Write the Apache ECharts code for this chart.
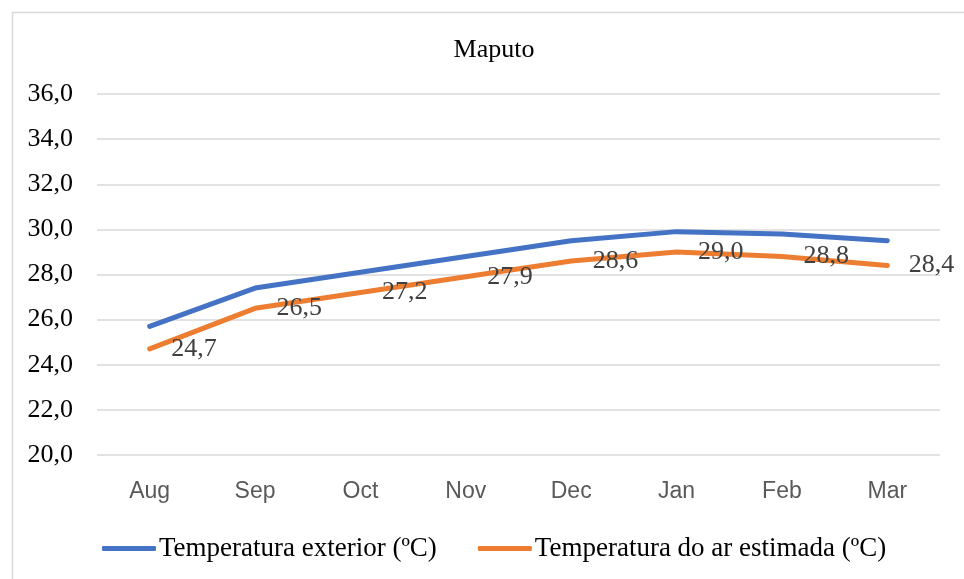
<!DOCTYPE html>
<html>
<head>
<meta charset="utf-8">
<script src="https://cdn.jsdelivr.net/npm/echarts@6/dist/echarts.min.js"></script>
<style>
  html, body { margin: 0; padding: 0; background: #fff; }
  #chart { width: 964px; height: 579px; }
</style>
</head>
<body>
<div id="chart"></div>
<script>
const months = ["Aug", "Sep", "Oct", "Nov", "Dec", "Jan", "Feb", "Mar"];
const tempExterior = [25.7, 27.4, 28.1, 28.8, 29.5, 29.9, 29.8, 29.5];
const tempArEstimada = [24.7, 26.5, 27.2, 27.9, 28.6, 29.0, 28.8, 28.4];
const seriesNames = ["Temperatura exterior (ºC)", "Temperatura do ar estimada (ºC)"];

const serif = "'Liberation Serif', 'Times New Roman', serif";
const comma = v => v.toFixed(1).replace(".", ",");

const chart = echarts.init(document.getElementById("chart"));
chart.setOption({
  animation: false,
  backgroundColor: "#fff",
  color: ["#4472C4", "#ED7D31"],
  graphic: [
    {
      type: "rect",
      left: 10,
      top: 10,
      shape: { width: 1000, height: 1000 },
      style: { fill: "none", stroke: "#D9D9D9", lineWidth: 1.5 },
      silent: true
    }
  ],
  title: {
    text: "Maputo",
    left: 489,
    textAlign: "center",
    top: 32,
    textStyle: { fontFamily: serif, fontSize: 26, fontWeight: "normal", color: "#000" }
  },
  grid: { left: 97, right: 24, top: 94, bottom: 124, containLabel: false },
  legend: {
    left: 102,
    top: 535,
    padding: 0,
    itemWidth: 54,
    itemHeight: 5,
    itemGap: 41,
    icon: "roundRect",
    textStyle: { fontFamily: serif, fontSize: 27, color: "#000", padding: [0, 0, 0, -2] },
    data: seriesNames
  },
  xAxis: {
    type: "category",
    data: months,
    boundaryGap: true,
    axisLine: { show: false },
    axisTick: { show: false },
    axisLabel: {
      margin: 25,
      fontFamily: "'Liberation Sans', Arial, sans-serif",
      fontSize: 23,
      color: "#595959"
    }
  },
  yAxis: {
    type: "value",
    min: 20,
    max: 36,
    interval: 2,
    axisLine: { show: false },
    axisTick: { show: false },
    splitLine: { lineStyle: { color: "#D9D9D9", width: 1.5 } },
    axisLabel: {
      margin: 24,
      fontFamily: serif,
      fontSize: 26,
      color: "#000",
      formatter: comma
    }
  },
  series: [
    {
      name: seriesNames[0],
      type: "line",
      data: tempExterior,
      symbol: "circle",
      symbolSize: 1,
      lineStyle: { width: 5, cap: "round" },
      label: { show: false }
    },
    {
      name: seriesNames[1],
      type: "line",
      data: tempArEstimada,
      symbol: "circle",
      symbolSize: 1,
      lineStyle: { width: 5, cap: "round" },
      label: {
        show: true,
        position: "right",
        distance: 21,
        fontFamily: serif,
        fontSize: 26,
        color: "#404040",
        padding: [10, 0, 0, 0],
        formatter: p => comma(p.value)
      }
    }
  ]
});
</script>
</body>
</html>
